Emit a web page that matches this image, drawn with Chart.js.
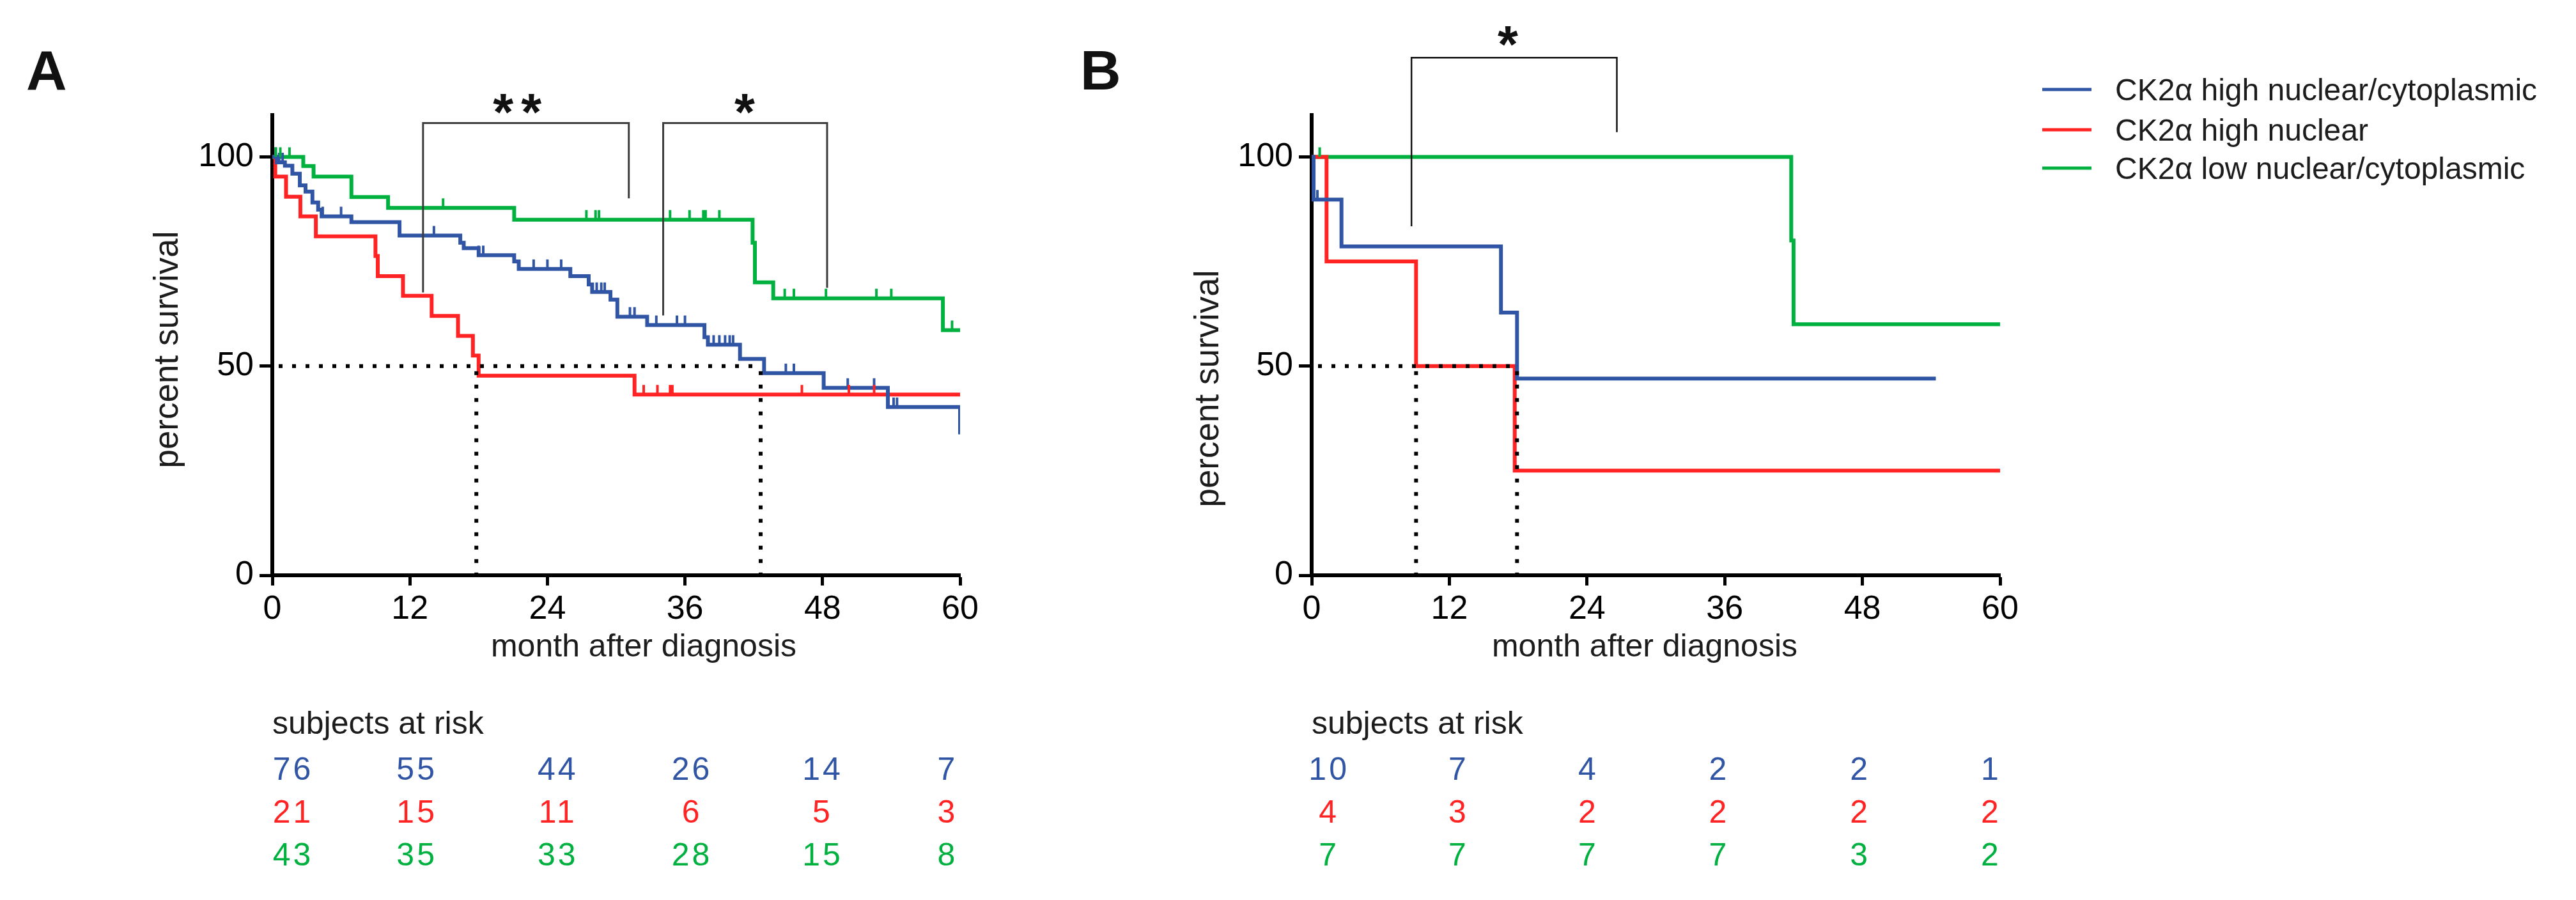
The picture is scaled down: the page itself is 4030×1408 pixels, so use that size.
<!DOCTYPE html>
<html>
<head>
<meta charset="utf-8">
<script src="https://cdn.jsdelivr.net/npm/chart.js@4.4.1/dist/chart.umd.min.js"></script>
<style>
  html, body { margin: 0; padding: 0; background: #fff; overflow: hidden; }
  #wrap { position: relative; width: 4030px; height: 1408px; background: #fff; }
  canvas { position: absolute; top: 0; }
  #panelA { left: 0; }
  #panelB { left: 1620px; }
</style>
</head>
<body>
<div id="wrap">
  <canvas id="panelA" width="1620" height="1408"></canvas>
  <canvas id="panelB" width="2410" height="1408"></canvas>
</div>
<script>
// ---- data ----
const seriesNames = ["CK2α high nuclear/cytoplasmic", "CK2α high nuclear", "CK2α low nuclear/cytoplasmic"];
const seriesColors = ["#2f55a4", "#ff2323", "#00b140"];
const monthTicks = [0, 12, 24, 36, 48, 60];
const percentTicks = [0, 50, 100];

// panel A: event times (month) and survival (%)
const aBlueT = [0, 0.4, 1.1, 1.75, 2.4, 2.9, 3.5, 4.0, 4.3, 6.9, 11.1, 16.4, 16.7, 18.0, 21.1, 21.5, 26.0, 27.6, 27.9, 29.5, 30.1, 32.7, 37.7, 38.0, 40.8, 42.9, 48.1, 53.7, 60];
const aBlueS = [100, 98.7, 97.9, 96.0, 93.2, 91.7, 89.1, 87.4, 85.8, 84.4, 81.2, 79.5, 78.2, 76.5, 75.0, 73.2, 71.5, 69.5, 67.7, 65.9, 61.8, 59.8, 56.9, 55.1, 51.7, 48.3, 44.8, 40.2, 33.7];
const aRedT = [0, 0.26, 1.2, 2.45, 3.8, 9.0, 9.2, 11.4, 13.9, 16.2, 17.5, 18.0, 31.6, 60];
const aRedS = [100, 95.3, 90.5, 85.8, 81.0, 76.3, 71.5, 66.8, 62.0, 57.2, 52.5, 47.7, 43.2, 43.2];
const aGreenT = [0, 2.7, 3.6, 6.9, 10.1, 21.1, 41.9, 42.1, 43.7, 58.5, 60];
const aGreenS = [100, 97.8, 95.3, 90.4, 87.8, 85.0, 79.5, 70.0, 66.2, 58.6, 58.6];
// censored observations (month)
const aBlueC = [0.3, 0.6, 0.9, 4.4, 6.0, 14.1, 18.0, 18.4, 22.8, 24.0, 25.2, 28.3, 28.7, 29.0, 31.2, 31.6, 33.5, 35.3, 36.0, 38.5, 39.0, 39.5, 39.9, 40.2, 44.8, 45.5, 50.2, 52.5, 54.2, 54.5];
const aRedC = [32.4, 33.6, 34.7, 34.9, 46.2, 50.3, 52.5];
const aGreenC = [0.3, 0.7, 1.5, 14.9, 27.4, 28.2, 28.5, 34.7, 36.4, 37.6, 37.8, 39.0, 44.7, 45.5, 48.3, 52.7, 54.0, 59.3];
const aMedians = [17.8, 42.6];
const aRiskBlue = [76, 55, 44, 26, 14, 7];
const aRiskRed = [21, 15, 11, 6, 5, 3];
const aRiskGreen = [43, 35, 33, 28, 15, 8];

// panel B
const bBlueT = [0, 0.17, 2.6, 16.5, 17.9, 54.4];
const bBlueS = [100, 89.8, 78.6, 62.8, 47.0, 47.0];
const bRedT = [0, 1.3, 9.1, 17.7, 60];
const bRedS = [100, 75, 50, 25, 25];
const bGreenT = [0, 41.8, 42.0, 60];
const bGreenS = [100, 80, 60, 60];
const bBlueC = [0.5];
const bRedC = [];
const bGreenC = [0.7];
const bMedians = [9.1, 17.9];
const bRiskBlue = [10, 7, 4, 2, 2, 1];
const bRiskRed = [4, 3, 2, 2, 2, 2];
const bRiskGreen = [7, 7, 7, 7, 3, 2];

// significance brackets: [from, to, top, leftEnd, rightEnd, labelX, labelY, label]
const aBrackets = [[13.15, 31.1, 108.1, 67.6, 90.1, 21.7, 112.6, "**"], [34.1, 48.4, 108.1, 62.1, 68.7, 41.2, 112.6, "*"]];
const bBrackets = [[8.7, 26.6, 123.7, 83.4, 105.9, 17.1, 128.8, "*"]];

// ---- drawing ----
const FONT = "'Liberation Sans', Arial, Helvetica, sans-serif";
const TEXT = "#1c1c1c";

function survivalAt(T, S, t) {
  let v = S[0];
  for (let i = 0; i < T.length; i++) if (T[i] <= t) v = S[i];
  return v;
}

function text(ctx, str, x, y, size, opts = {}) {
  ctx.save();
  ctx.font = (opts.bold ? "bold " : "") + size + "px " + FONT;
  ctx.fillStyle = opts.color || TEXT;
  ctx.textAlign = opts.align || "left";
  ctx.textBaseline = "alphabetic";
  if (opts.spacing) ctx.letterSpacing = opts.spacing;
  if (opts.rotate) {
    ctx.translate(x, y);
    ctx.rotate(opts.rotate);
    ctx.fillText(str, 0, 0);
  } else if (opts.centerY) {
    const m = ctx.measureText(str);
    ctx.fillText(str, x, y + (m.actualBoundingBoxAscent - m.actualBoundingBoxDescent) / 2);
  } else {
    ctx.fillText(str, x, y);
  }
  ctx.restore();
}

function makeDecor(cfg) {
  return {
    id: "kmDecor",
    afterDatasetsDraw(chart) {
      const { ctx, scales: { x, y } } = chart;
      // censor ticks
      cfg.censors.forEach((list, i) => {
        ctx.save();
        ctx.strokeStyle = seriesColors[i];
        ctx.lineWidth = 4;
        list.forEach(c => {
          const px = x.getPixelForValue(c);
          const py = y.getPixelForValue(survivalAt(cfg.times[i], cfg.surv[i], c));
          ctx.beginPath();
          ctx.moveTo(px, py);
          ctx.lineTo(px, py - 15);
          ctx.stroke();
        });
        ctx.restore();
      });
      // median survival guides
      ctx.save();
      ctx.strokeStyle = "#000";
      ctx.lineWidth = 6;
      ctx.setLineDash([6, 15]);
      const y50 = y.getPixelForValue(50);
      ctx.beginPath();
      ctx.moveTo(x.getPixelForValue(0) + 10, y50);
      ctx.lineTo(x.getPixelForValue(Math.max(...cfg.medians)), y50);
      ctx.stroke();
      cfg.medians.forEach(m => {
        const px = x.getPixelForValue(m);
        ctx.beginPath();
        ctx.moveTo(px, y50 + 8);
        ctx.lineTo(px, y.getPixelForValue(0));
        ctx.stroke();
      });
      ctx.restore();
    },
    afterDraw(chart) {
      const { ctx, scales: { x, y } } = chart;
      // brackets
      cfg.brackets.forEach(b => {
        ctx.save();
        ctx.strokeStyle = cfg.bracketColor;
        ctx.lineWidth = cfg.bracketWidth;
        ctx.beginPath();
        ctx.moveTo(x.getPixelForValue(b[0]), y.getPixelForValue(b[3]));
        ctx.lineTo(x.getPixelForValue(b[0]), y.getPixelForValue(b[2]));
        ctx.lineTo(x.getPixelForValue(b[1]), y.getPixelForValue(b[2]));
        ctx.lineTo(x.getPixelForValue(b[1]), y.getPixelForValue(b[4]));
        ctx.stroke();
        ctx.restore();
        text(ctx, b[7], x.getPixelForValue(b[5]), y.getPixelForValue(b[6]), 82,
          { bold: true, align: "center", centerY: true, color: "#111", spacing: b[7].length > 1 ? "12px" : "0px" });
      });
      // panel letter and axis titles
      text(ctx, cfg.letter, cfg.letterX, 140, 88, { bold: true, color: "#111" });
      text(ctx, "percent survival", cfg.yTitleX, cfg.yTitleY, 53, { align: "center", rotate: -Math.PI / 2 });
      text(ctx, "month after diagnosis", cfg.xTitleX, 1027, 50, { align: "center" });
      // subjects at risk
      text(ctx, "subjects at risk", x.getPixelForValue(0), 1148, 50);
      const rowY = [1220, 1287, 1354];
      cfg.risk.forEach((row, i) => {
        row.forEach((n, j) => {
          text(ctx, String(n), x.getPixelForValue(cfg.riskCols[j]) + 2, rowY[i], 50,
            { align: "center", color: seriesColors[i], spacing: "4px" });
        });
      });
      // legend
      if (cfg.legend) {
        const ly = [140, 203, 263];
        seriesNames.forEach((name, i) => {
          ctx.save();
          ctx.strokeStyle = seriesColors[i];
          ctx.lineWidth = 5;
          ctx.beginPath();
          ctx.moveTo(cfg.legendX, ly[i]);
          ctx.lineTo(cfg.legendX + 77, ly[i]);
          ctx.stroke();
          ctx.restore();
          text(ctx, name, cfg.legendX + 114, ly[i] + 17, 48);
        });
      }
    }
  };
}

function kmDataset(T, S, i) {
  return {
    label: seriesNames[i],
    data: T.map((t, k) => ({ x: t, y: S[k] })),
    borderColor: seriesColors[i],
    borderWidth: 6,
    stepped: true,
    pointRadius: 0,
    fill: false,
    tension: 0
  };
}

function kmChart(id, sets, yWidth, rightPad, cfg) {
  return new Chart(document.getElementById(id), {
    type: "line",
    data: { datasets: sets.map((s, i) => kmDataset(s[0], s[1], i)) },
    options: {
      responsive: false,
      animation: false,
      devicePixelRatio: 1,
      layout: { padding: { top: 180, left: 0, right: rightPad, bottom: 408 } },
      plugins: { legend: { display: false }, tooltip: { enabled: false } },
      scales: {
        x: {
          type: "linear", min: 0, max: 60,
          afterBuildTicks: s => { s.ticks = monthTicks.map(v => ({ value: v })); },
          afterFit: s => { s.height = 100; },
          grid: { drawOnChartArea: false, drawTicks: true, tickLength: 16, tickWidth: 5, tickColor: "#000", color: "#000" },
          border: { display: true, color: "#000", width: 6 },
          ticks: { font: { family: FONT, size: 52 }, color: "#000", padding: 6, maxRotation: 0 }
        },
        y: {
          type: "linear", min: 0, max: 110,
          afterBuildTicks: s => { s.ticks = percentTicks.map(v => ({ value: v })); },
          afterFit: s => { s.width = yWidth; },
          grid: { drawOnChartArea: false, drawTicks: true, tickLength: 20, tickWidth: 5, tickColor: "#000", color: "#000" },
          border: { display: true, color: "#000", width: 6 },
          ticks: { font: { family: FONT, size: 52 }, color: "#000", padding: 9 }
        }
      }
    },
    plugins: [makeDecor(cfg)]
  });
}

kmChart("panelA", [[aBlueT, aBlueS], [aRedT, aRedS], [aGreenT, aGreenS]], 426, 118, {
  times: [aBlueT, aRedT, aGreenT], surv: [aBlueS, aRedS, aGreenS],
  censors: [aBlueC, aRedC, aGreenC], medians: aMedians,
  brackets: aBrackets, bracketColor: "#3c3c3c", bracketWidth: 3,
  letter: "A", letterX: 41, yTitleX: 278, yTitleY: 547, xTitleX: 1007,
  risk: [aRiskBlue, aRiskRed, aRiskGreen], riskCols: [1.7, 12.5, 24.8, 36.5, 47.9, 58.8],
  legend: false
});

kmChart("panelB", [[bBlueT, bBlueS], [bRedT, bRedS], [bGreenT, bGreenS]], 432, 901, {
  times: [bBlueT, bRedT, bGreenT], surv: [bBlueS, bRedS, bGreenS],
  censors: [bBlueC, bRedC, bGreenC], medians: bMedians,
  brackets: bBrackets, bracketColor: "#111", bracketWidth: 2.5,
  letter: "B", letterX: 70, yTitleX: 286, yTitleY: 608, xTitleX: 953,
  risk: [bRiskBlue, bRiskRed, bRiskGreen], riskCols: [1.4, 12.7, 24.0, 35.4, 47.7, 59.1],
  legend: true, legendX: 1575
});
</script>
</body>
</html>
